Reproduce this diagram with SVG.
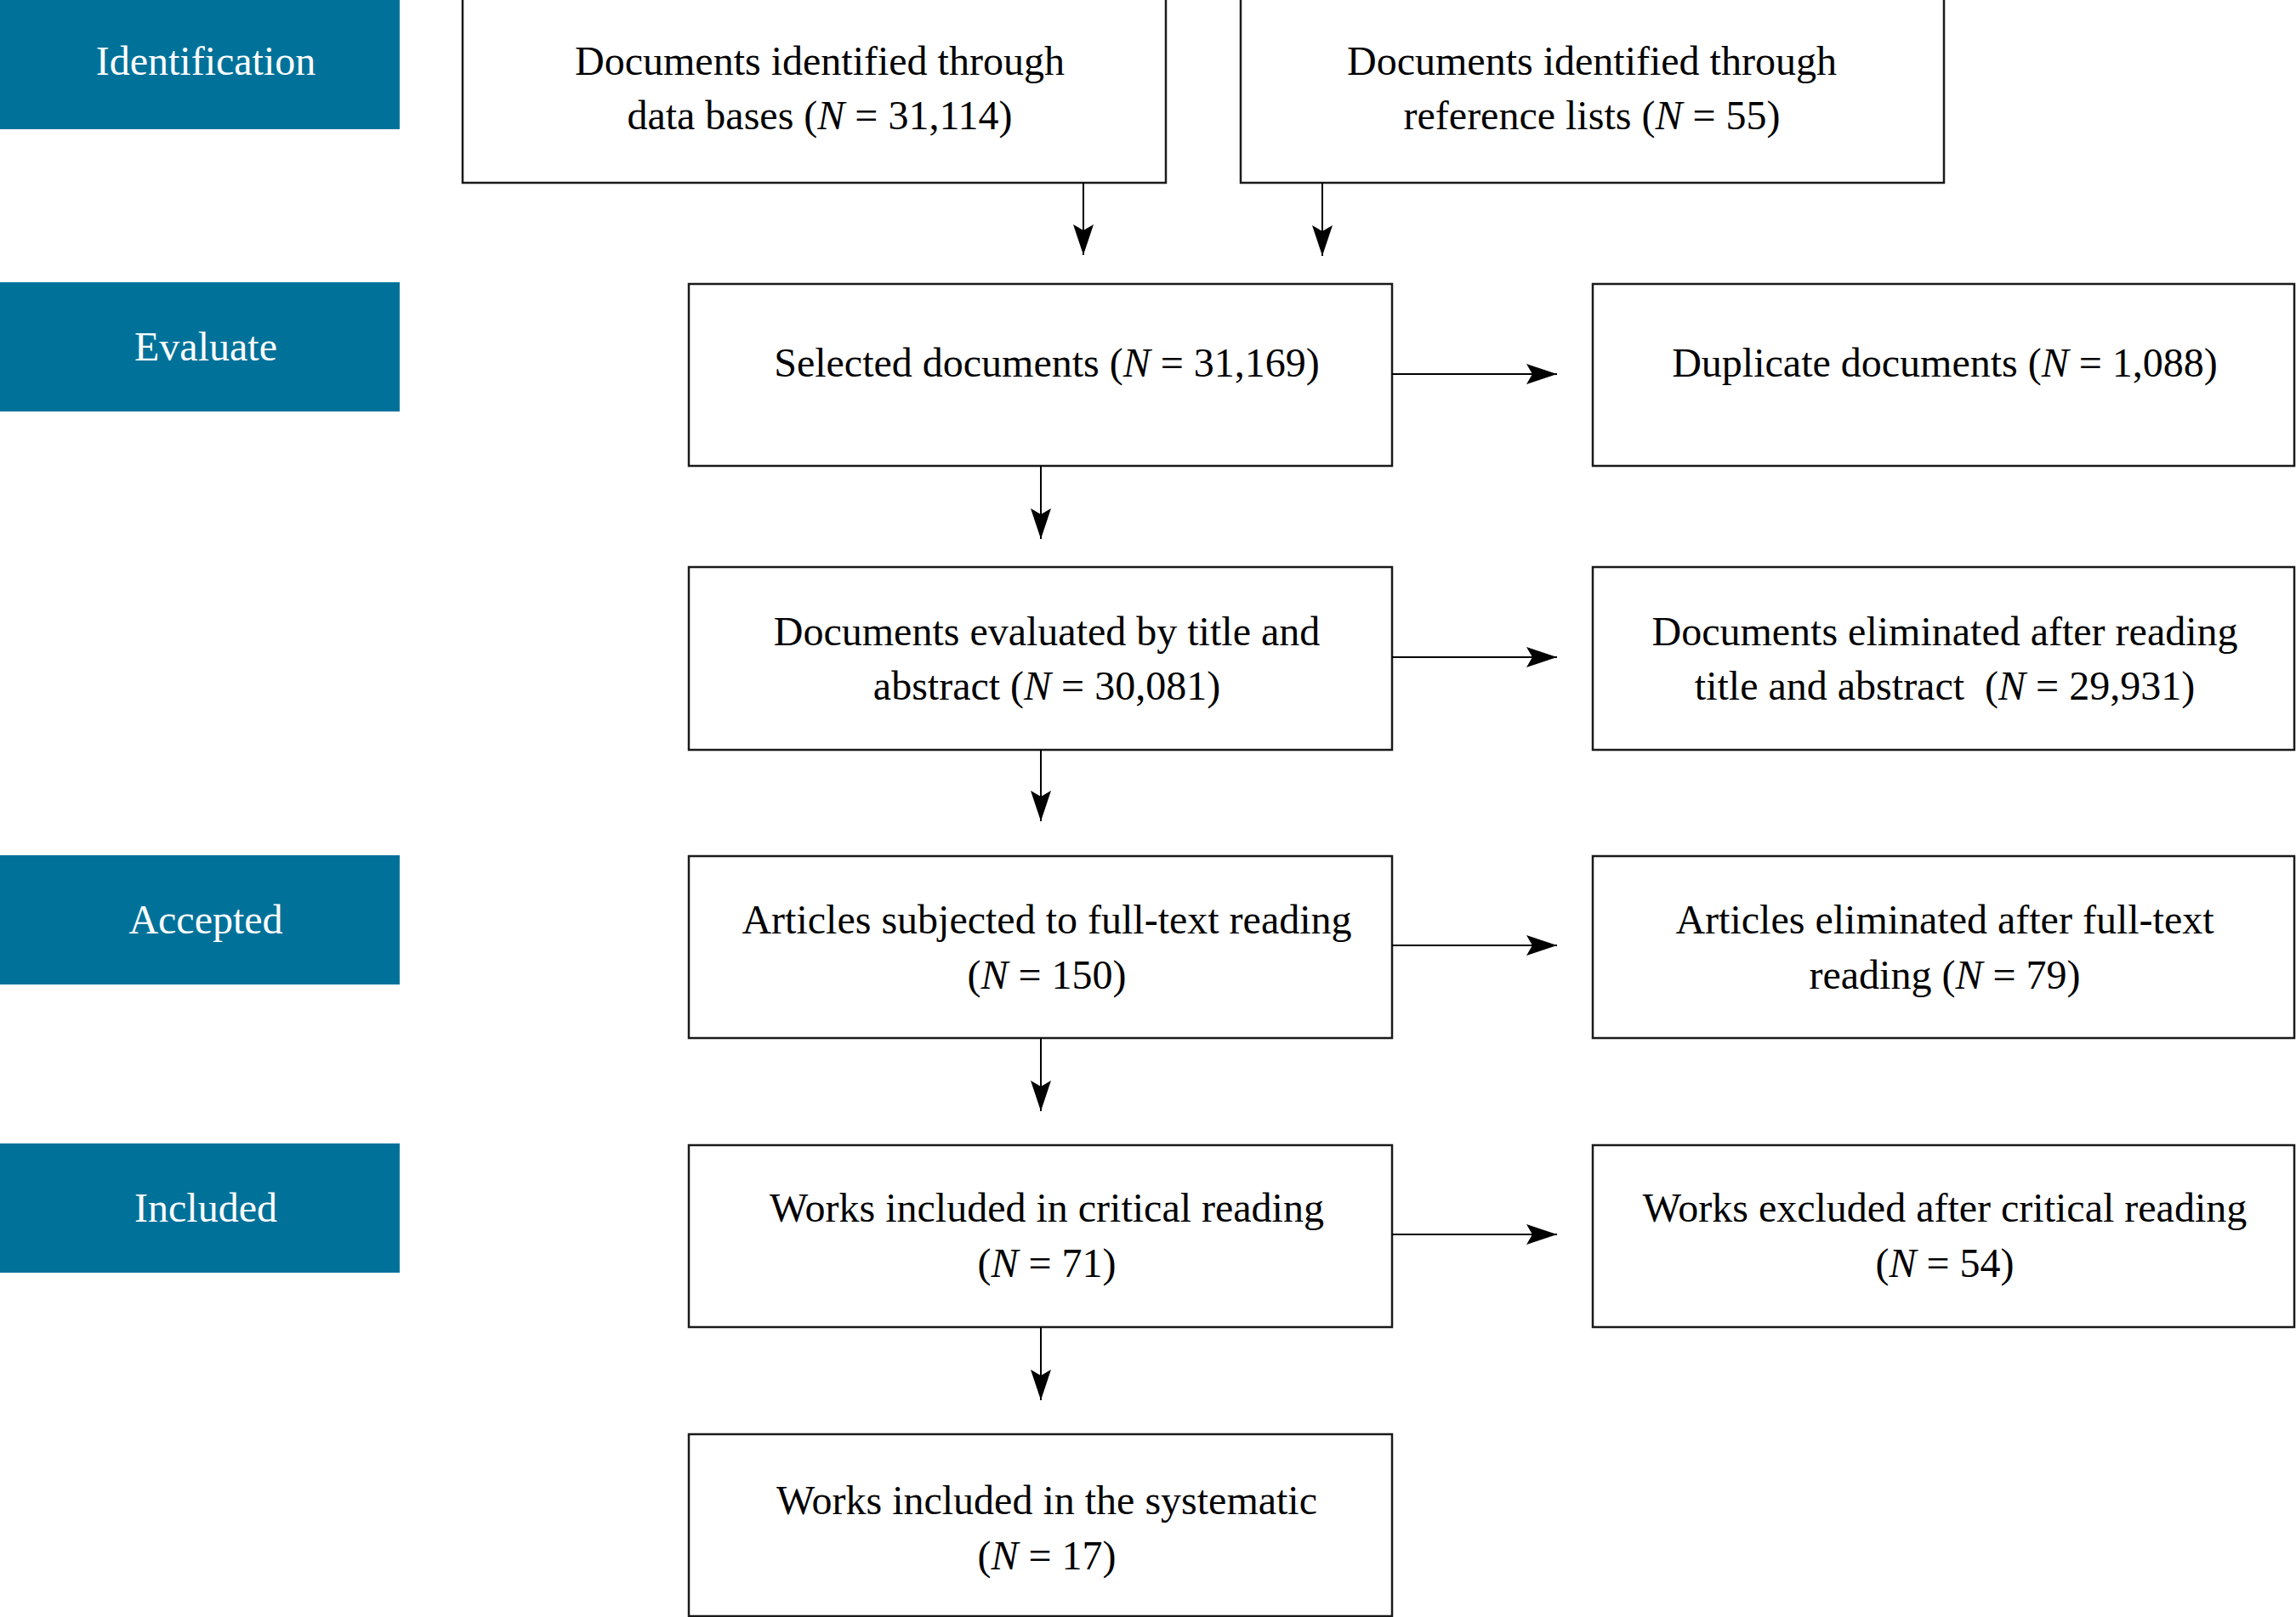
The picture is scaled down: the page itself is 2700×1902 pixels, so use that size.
<svg xmlns="http://www.w3.org/2000/svg" width="2700" height="1902" viewBox="0 0 2700 1902">
<style>
.stage{fill:#00729A}
.stage-t{fill:#ffffff;font-family:"Liberation Serif",serif;font-size:48px;text-anchor:middle}
.box{fill:#ffffff;stroke:#1a1a1a;stroke-width:2.5}
.t{fill:#000000;font-family:"Liberation Serif",serif;font-size:48px;text-anchor:middle}
.i{font-style:italic}
.conn{stroke:#000000;stroke-width:2;fill:none;marker-end:url(#arr)}
</style>
<defs>
<marker id="arr" markerUnits="userSpaceOnUse" markerWidth="36" markerHeight="24" refX="36" refY="12" orient="auto" viewBox="0 0 36 24">
<path d="M0,0 L36,12 L0,24 L7,12 z" fill="#000000"/>
</marker>
</defs>
<rect width="2700" height="1902" fill="#ffffff"/>
<g id="stage-identification"><rect class="stage" x="0" y="0" width="470" height="152"/><text class="stage-t" x="242" y="88">Identification</text></g>
<g id="stage-evaluate"><rect class="stage" x="0" y="332" width="470" height="152"/><text class="stage-t" x="242" y="424">Evaluate</text></g>
<g id="stage-accepted"><rect class="stage" x="0" y="1006" width="470" height="152"/><text class="stage-t" x="242" y="1098">Accepted</text></g>
<g id="stage-included"><rect class="stage" x="0" y="1345" width="470" height="152"/><text class="stage-t" x="242" y="1437">Included</text></g>

<g id="n-databases"><rect class="box" x="544" y="-2" width="827" height="217"/><text class="t" x="964" y="88">Documents identified through</text><text class="t" x="964" y="152">data bases (<tspan class="i">N</tspan> = 31,114)</text></g>
<g id="n-reflists"><rect class="box" x="1459" y="-2" width="827" height="217"/><text class="t" x="1872" y="88">Documents identified through</text><text class="t" x="1872" y="152">reference lists (<tspan class="i">N</tspan> = 55)</text></g>
<g id="n-selected"><rect class="box" x="810" y="334" width="827" height="214"/><text class="t" x="1231" y="443">Selected documents (<tspan class="i">N</tspan> = 31,169)</text></g>
<g id="n-duplicate"><rect class="box" x="1873" y="334" width="825" height="214"/><text class="t" x="2287" y="443">Duplicate documents (<tspan class="i">N</tspan> = 1,088)</text></g>
<g id="n-evaluated"><rect class="box" x="810" y="667" width="827" height="215"/><text class="t" x="1231" y="759">Documents evaluated by title and</text><text class="t" x="1231" y="823">abstract (<tspan class="i">N</tspan> = 30,081)</text></g>
<g id="n-elim-title"><rect class="box" x="1873" y="667" width="825" height="215"/><text class="t" x="2287" y="759">Documents eliminated after reading</text><text class="t" x="2287" y="823">title and abstract &#160;(<tspan class="i">N</tspan> = 29,931)</text></g>
<g id="n-fulltext"><rect class="box" x="810" y="1007" width="827" height="214"/><text class="t" x="1231" y="1098">Articles subjected to full-text reading</text><text class="t" x="1231" y="1163">(<tspan class="i">N</tspan> = 150)</text></g>
<g id="n-elim-full"><rect class="box" x="1873" y="1007" width="825" height="214"/><text class="t" x="2287" y="1098">Articles eliminated after full-text</text><text class="t" x="2287" y="1163">reading (<tspan class="i">N</tspan> = 79)</text></g>
<g id="n-critical"><rect class="box" x="810" y="1347" width="827" height="214"/><text class="t" x="1231" y="1437">Works included in critical reading</text><text class="t" x="1231" y="1502">(<tspan class="i">N</tspan> = 71)</text></g>
<g id="n-excluded"><rect class="box" x="1873" y="1347" width="825" height="214"/><text class="t" x="2287" y="1437">Works excluded after critical reading</text><text class="t" x="2287" y="1502">(<tspan class="i">N</tspan> = 54)</text></g>
<g id="n-systematic"><rect class="box" x="810" y="1687" width="827" height="214"/><text class="t" x="1231" y="1781">Works included in the systematic</text><text class="t" x="1231" y="1846">(<tspan class="i">N</tspan> = 17)</text></g>

<g id="connectors">
<line class="conn" x1="1274" y1="215" x2="1274" y2="300"/>
<line class="conn" x1="1555" y1="215" x2="1555" y2="301"/>
<line class="conn" x1="1224" y1="548" x2="1224" y2="634"/>
<line class="conn" x1="1224" y1="882" x2="1224" y2="966"/>
<line class="conn" x1="1224" y1="1221" x2="1224" y2="1307"/>
<line class="conn" x1="1224" y1="1561" x2="1224" y2="1647"/>
<line class="conn" x1="1637" y1="440" x2="1831" y2="440"/>
<line class="conn" x1="1637" y1="773" x2="1831" y2="773"/>
<line class="conn" x1="1637" y1="1112" x2="1831" y2="1112"/>
<line class="conn" x1="1637" y1="1452" x2="1831" y2="1452"/>
</g>
</svg>
